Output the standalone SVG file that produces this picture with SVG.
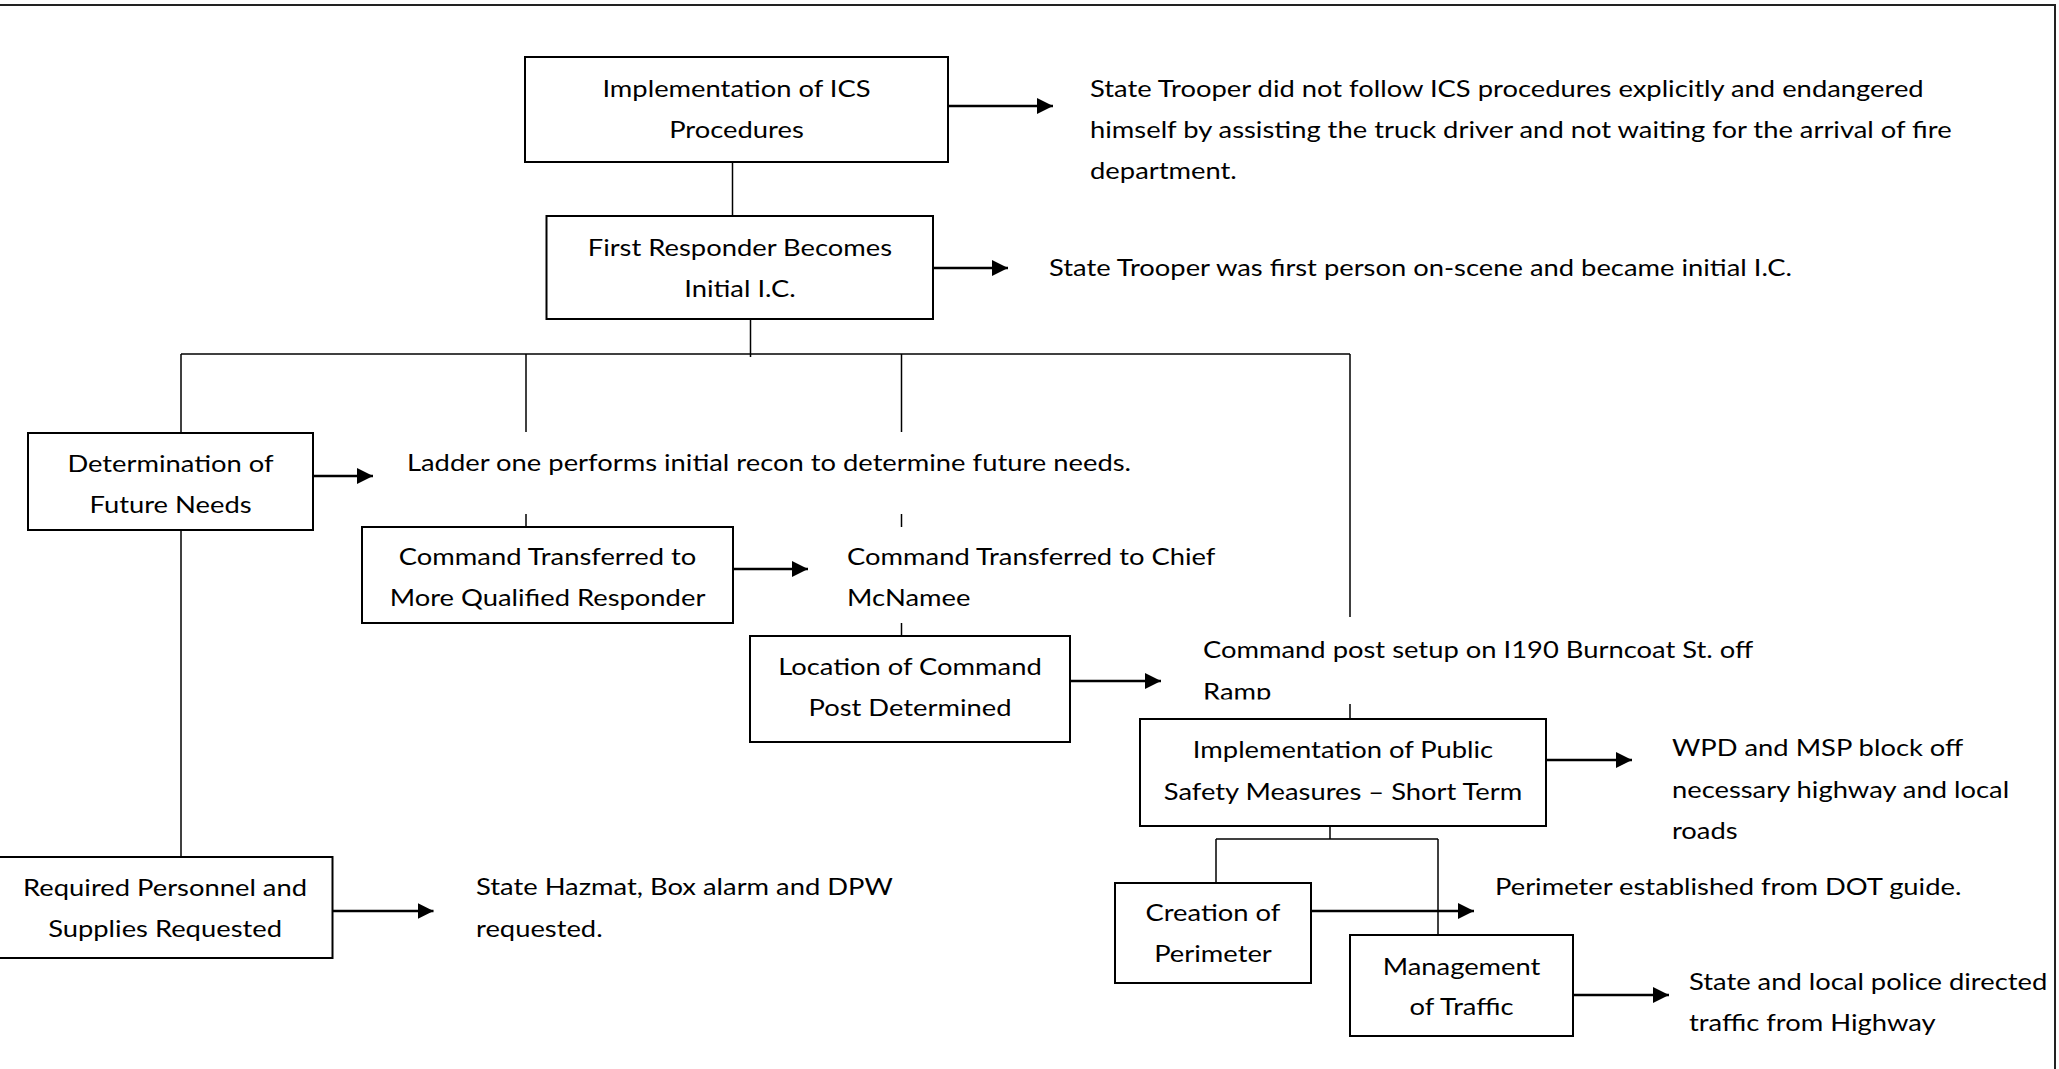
<svg xmlns="http://www.w3.org/2000/svg" width="2059" height="1069" viewBox="0 0 2059 1069">
  <style>
    .box { fill: #ffffff; stroke: #000000; stroke-width: 2; }
    .lbl { font-family: Lato, "Liberation Sans", sans-serif; font-size: 23px; fill: #000000; }
    .mid { text-anchor: middle; }
    .conn { stroke: #000000; stroke-width: 1.5; fill: none; }
    .arrow { stroke: #000000; stroke-width: 2.5; fill: none; marker-end: url(#head); }
    .frame { stroke: #222222; stroke-width: 2; fill: none; }
  </style>
  <defs>
    <marker id="head" markerUnits="userSpaceOnUse" markerWidth="16" markerHeight="16" refX="16" refY="8" orient="auto">
      <path d="M0,0 L16,8 L0,16 Z" fill="#000000"/>
    </marker>
    <clipPath id="postClip">
      <rect x="1190" y="620" width="700" height="79.5"/>
    </clipPath>
  </defs>

  <rect width="2059" height="1069" fill="#ffffff"/>

  <!-- page frame -->
  <path class="frame" d="M0,5 H2055 V1069"/>

  <!-- connectors -->
  <g id="connectors">
    <line class="conn" x1="732.5" y1="157" x2="732.5" y2="219"/>
    <line class="conn" x1="750.5" y1="316" x2="750.5" y2="357"/>
    <line class="conn" x1="181" y1="354" x2="1350" y2="354" stroke-width="2"/>
    <line class="conn" x1="181" y1="354" x2="181" y2="437"/>
    <line class="conn" x1="526" y1="354" x2="526" y2="432"/>
    <line class="conn" x1="901.5" y1="354" x2="901.5" y2="432"/>
    <line class="conn" x1="1350" y1="354" x2="1350" y2="617"/>
    <line class="conn" x1="526" y1="514" x2="526" y2="532"/>
    <line class="conn" x1="901.5" y1="514" x2="901.5" y2="527"/>
    <line class="conn" x1="901.5" y1="623" x2="901.5" y2="647"/>
    <line class="conn" x1="1350" y1="704" x2="1350" y2="732"/>
    <line class="conn" x1="181" y1="527" x2="181" y2="869"/>
    <line class="conn" x1="1330" y1="817" x2="1330" y2="839"/>
    <line class="conn" x1="1216" y1="839" x2="1438" y2="839" stroke-width="2.5" stroke="#333333"/>
    <line class="conn" x1="1216" y1="839" x2="1216" y2="883"/>
    <line class="conn" x1="1438" y1="839" x2="1438" y2="937" stroke-width="2"/>

    <line class="arrow" x1="948" y1="106" x2="1053" y2="106"/>
    <line class="arrow" x1="933" y1="268" x2="1008" y2="268"/>
    <line class="arrow" x1="313" y1="476" x2="373" y2="476"/>
    <line class="arrow" x1="733" y1="569" x2="808" y2="569"/>
    <line class="arrow" x1="1070" y1="681" x2="1161" y2="681"/>
    <line class="arrow" x1="1546" y1="760" x2="1632" y2="760"/>
    <line class="arrow" x1="1311" y1="911" x2="1474" y2="911"/>
    <line class="arrow" x1="1573" y1="995" x2="1669" y2="995"/>
    <line class="arrow" x1="332.5" y1="911" x2="433.5" y2="911"/>
  </g>

  <!-- process boxes; labels are widened with a horizontal scale of 1.19 -->
  <g id="ics-procedures">
    <rect class="box" x="525" y="57" width="423" height="105"/>
    <text class="lbl mid" transform="scale(1.19,1)" x="618.9" y="97">Implementation of ICS</text>
    <text class="lbl mid" transform="scale(1.19,1)" x="618.9" y="138">Procedures</text>
  </g>
  <g id="first-responder">
    <rect class="box" x="546.5" y="216" width="386.5" height="103"/>
    <text class="lbl mid" transform="scale(1.19,1)" x="621.8" y="256">First Responder Becomes</text>
    <text class="lbl mid" transform="scale(1.19,1)" x="621.8" y="297">Initial I.C.</text>
  </g>
  <g id="future-needs">
    <rect class="box" x="28" y="433" width="285" height="97"/>
    <text class="lbl mid" transform="scale(1.19,1)" x="143.3" y="472">Determination of</text>
    <text class="lbl mid" transform="scale(1.19,1)" x="143.3" y="513">Future Needs</text>
  </g>
  <g id="command-transfer">
    <rect class="box" x="362" y="527" width="371" height="96"/>
    <text class="lbl mid" transform="scale(1.19,1)" x="460.1" y="565">Command Transferred to</text>
    <text class="lbl mid" transform="scale(1.19,1)" x="460.1" y="606">More Qualified Responder</text>
  </g>
  <g id="command-post">
    <rect class="box" x="750" y="636" width="320" height="106"/>
    <text class="lbl mid" transform="scale(1.19,1)" x="764.7" y="675">Location of Command</text>
    <text class="lbl mid" transform="scale(1.19,1)" x="764.7" y="716">Post Determined</text>
  </g>
  <g id="public-safety">
    <rect class="box" x="1140" y="719" width="406" height="107"/>
    <text class="lbl mid" transform="scale(1.19,1)" x="1128.6" y="758">Implementation of Public</text>
    <text class="lbl mid" transform="scale(1.19,1)" x="1128.6" y="800">Safety Measures – Short Term</text>
  </g>
  <g id="perimeter">
    <rect class="box" x="1115" y="883" width="196" height="100"/>
    <text class="lbl mid" transform="scale(1.19,1)" x="1019.3" y="921">Creation of</text>
    <text class="lbl mid" transform="scale(1.19,1)" x="1019.3" y="962">Perimeter</text>
  </g>
  <g id="traffic">
    <rect class="box" x="1350" y="935" width="223" height="101"/>
    <text class="lbl mid" transform="scale(1.19,1)" x="1228.2" y="975">Management</text>
    <text class="lbl mid" transform="scale(1.19,1)" x="1228.2" y="1015">of Traffic</text>
  </g>
  <g id="personnel">
    <rect class="box" x="-2" y="857" width="334.5" height="101"/>
    <text class="lbl mid" transform="scale(1.19,1)" x="138.7" y="896">Required Personnel and</text>
    <text class="lbl mid" transform="scale(1.19,1)" x="138.7" y="937">Supplies Requested</text>
  </g>

  <!-- outcome notes -->
  <g id="note-ics">
    <text class="lbl" transform="scale(1.19,1)" x="916" y="97">State Trooper did not follow ICS procedures explicitly and endangered</text>
    <text class="lbl" transform="scale(1.19,1)" x="916" y="138">himself by assisting the truck driver and not waiting for the arrival of fire</text>
    <text class="lbl" transform="scale(1.19,1)" x="916" y="179">department.</text>
  </g>
  <g id="note-first">
    <text class="lbl" transform="scale(1.19,1)" x="881.5" y="276">State Trooper was first person on-scene and became initial I.C.</text>
  </g>
  <g id="note-ladder">
    <text class="lbl" transform="scale(1.19,1)" x="342" y="471">Ladder one performs initial recon to determine future needs.</text>
  </g>
  <g id="note-chief">
    <text class="lbl" transform="scale(1.19,1)" x="711.8" y="565">Command Transferred to Chief</text>
    <text class="lbl" transform="scale(1.19,1)" x="711.8" y="606">McNamee</text>
  </g>
  <!-- the second line of this note is cut off by its text frame -->
  <g id="note-post" clip-path="url(#postClip)">
    <text class="lbl" transform="scale(1.19,1)" x="1010.9" y="658">Command post setup on I190 Burncoat St. off</text>
    <text class="lbl" transform="scale(1.19,1)" x="1010.9" y="700.5">Ramp</text>
  </g>
  <g id="note-roads">
    <text class="lbl" transform="scale(1.19,1)" x="1405" y="756">WPD and MSP block off</text>
    <text class="lbl" transform="scale(1.19,1)" x="1405" y="798">necessary highway and local</text>
    <text class="lbl" transform="scale(1.19,1)" x="1405" y="839">roads</text>
  </g>
  <g id="note-perimeter">
    <text class="lbl" transform="scale(1.19,1)" x="1256.3" y="895">Perimeter established from DOT guide.</text>
  </g>
  <g id="note-police">
    <text class="lbl" transform="scale(1.19,1)" x="1419.3" y="990">State and local police directed</text>
    <text class="lbl" transform="scale(1.19,1)" x="1419.3" y="1031">traffic from Highway</text>
  </g>
  <g id="note-hazmat">
    <text class="lbl" transform="scale(1.19,1)" x="400" y="895">State Hazmat, Box alarm and DPW</text>
    <text class="lbl" transform="scale(1.19,1)" x="400" y="937">requested.</text>
  </g>
</svg>
